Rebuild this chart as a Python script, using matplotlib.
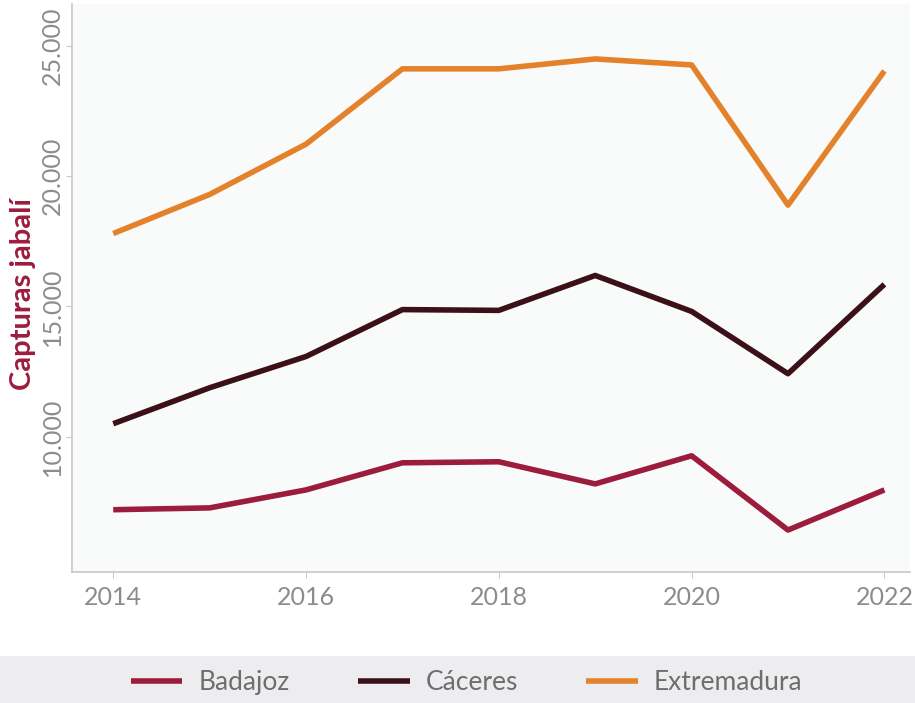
import matplotlib
matplotlib.use("Agg")
import matplotlib.pyplot as plt
from matplotlib.patches import Rectangle
from matplotlib.ticker import FuncFormatter

# Data
years = [2014, 2015, 2016, 2017, 2018, 2019, 2020, 2021, 2022]
badajoz = [7200, 7270, 7960, 9000, 9040, 8190, 9270, 6420, 7960]
caceres = [10500, 11880, 13080, 14880, 14850, 16190, 14810, 12420, 15850]
extremadura = [17800, 19300, 21230, 24120, 24120, 24500, 24270, 18890, 24040]

series_names = ["Badajoz", "Cáceres", "Extremadura"]
colors = ["#9c1c3c", "#3c1019", "#e4822c"]

plt.rcParams['font.family'] = ['Lato', 'DejaVu Sans']

fig = plt.figure(figsize=(9.15, 7.03), dpi=100)
fig.patch.set_facecolor("white")
ax = fig.add_axes([0.079, 0.186, 0.916, 0.808])
ax.set_facecolor("#f9fbfb")

for name, vals, c in zip(series_names, [badajoz, caceres, extremadura], colors):
    ax.plot(years, vals, color=c, linewidth=4, label=name, solid_capstyle="butt")

ax.set_xlim(2013.575, 2022.27)
ax.set_ylim(4800, 26600)
ax.set_xticks([2014, 2016, 2018, 2020, 2022])
ax.set_yticks([10000, 15000, 20000, 25000])
ax.yaxis.set_major_formatter(FuncFormatter(lambda v, p: f"{int(v):,}".replace(",", ".")))

for s in ["top", "right"]:
    ax.spines[s].set_visible(False)
for s in ["left", "bottom"]:
    ax.spines[s].set_color("#c8c8c8")
    ax.spines[s].set_linewidth(1.2)

ax.tick_params(axis="both", colors="#c8c8c8", length=4, labelcolor="#8c8c8c", labelsize=18)
ax.tick_params(axis="x", pad=6)
ax.tick_params(axis="y", pad=2)
for lbl in ax.get_yticklabels():
    lbl.set_rotation(90)
    lbl.set_va("center")

ax.set_ylabel("Capturas jabalí", color="#9c1c3c", fontsize=21, fontweight="bold")
ax.yaxis.set_label_coords(-0.043, 0.49)

# legend band
fig.patches.append(Rectangle((0, 0), 1, 47 / 703, transform=fig.transFigure,
                             facecolor="#ededf0", edgecolor="none", zorder=0))
fig.legend(loc="center", bbox_to_anchor=(0.51, 0.029), ncol=3, frameon=False,
           fontsize=19, labelcolor="#6e6e6e", handlelength=1.95, columnspacing=2.6,
           handletextpad=0.6)

fig.savefig("out.png", dpi=100)
